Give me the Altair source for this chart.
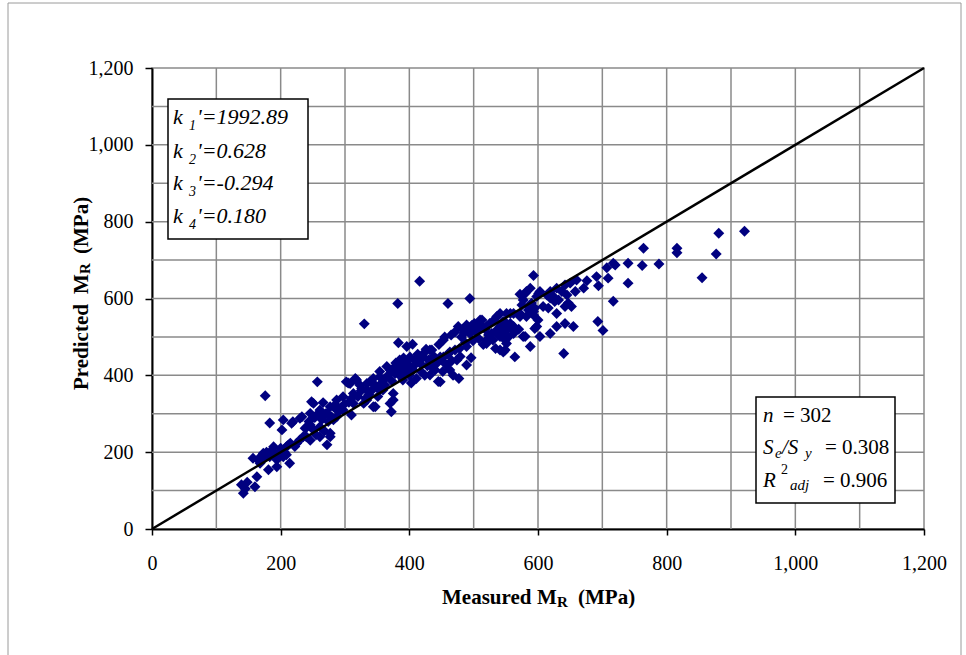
import altair as alt
import pandas as pd

# ---------------- data ----------------
measured_mpa = [
    139, 142, 145, 148, 157, 160, 163, 165, 168, 170,
    173, 175, 176, 178, 181, 183, 183, 186, 189, 190,
    194, 194, 197, 200, 202, 204, 204, 206, 209, 209,
    212, 214, 215, 217, 219, 222, 225,
    230, 230, 233, 235, 238, 240, 241, 244, 246, 246,
    246, 248, 251, 251, 253, 255, 257, 258, 261, 261,
    261, 264, 266, 268, 270, 272, 272, 274, 277, 277,
    277, 279, 282, 282, 285, 287, 287, 287, 290, 293,
    297, 297, 299,
    302, 305, 306, 308, 310, 310, 313, 313, 316, 318,
    320, 323, 325, 326, 329, 330, 332, 334, 334, 334,
    337, 339, 341, 344, 344, 344, 347, 349, 351, 354,
    354, 354, 357, 359, 361, 362, 365, 367, 370, 370,
    372, 373, 375, 375, 376, 378, 379,
    382, 383, 384, 385, 386, 388, 390, 391, 393, 395,
    396, 398, 400, 401, 401, 403, 405, 406, 408, 410,
    411, 413, 416, 417, 418, 420, 422, 422, 424, 426,
    428, 430, 432, 432, 435, 436, 438, 440, 442, 445,
    446, 448, 448, 450, 452, 453, 453, 455, 458, 460,
    460, 463, 463, 465, 466, 468, 471, 471, 474, 476,
    477, 478, 479,
    481, 483, 485, 487, 489, 489, 489, 492, 494, 494,
    496, 497, 499, 501, 503, 505, 505, 508, 510, 512,
    513, 515, 518, 520, 520, 520, 523, 525, 528, 530,
    532, 534, 536, 536, 538, 541, 541, 541, 541, 544,
    546, 546, 546, 549, 549, 551, 551, 551, 551, 554,
    557, 557, 560, 562, 562, 562, 564, 570, 572, 572,
    572, 575, 577, 577, 580, 580,
    582, 582, 585, 585, 588, 588, 590, 593, 593, 593,
    595, 595, 598, 598, 600, 601, 603, 603, 608, 614,
    616, 619, 619, 619, 624, 626, 629, 629, 629, 632,
    637, 640, 642, 642, 642, 645, 647, 650, 652, 655,
    658, 660, 671, 676, 691, 693, 694, 701, 707, 709,
    717, 717, 720,
    740, 740, 762, 764, 788, 816, 816, 855, 877, 881,
    921,
]
predicted_mpa = [
    115, 93, 105, 122, 184, 110, 136, 180, 171, 190,
    197, 185, 347, 200, 154, 188, 276, 205, 214, 195,
    180, 162, 200, 210, 258, 284, 188, 200, 214, 193,
    219, 171, 223, 275, 279, 215, 223,
    232, 288, 292, 240, 262, 240, 266, 280, 231, 271,
    301, 331, 258, 327, 290, 245, 383, 300, 240, 266,
    310, 285, 329, 255, 300, 301, 219, 280, 240, 249,
    318, 292, 284, 318, 323, 292, 318, 336, 305, 315,
    310, 344, 325,
    383, 380, 330, 379, 297, 340, 327, 353, 392, 388,
    345, 375, 360, 366, 327, 534, 340, 336, 362, 379,
    350, 384, 360, 318, 379, 392, 318, 370, 345, 362,
    396, 410, 380, 362, 390, 375, 423, 400, 327, 414,
    305, 385, 336, 353, 420, 405, 432,
    587, 485, 415, 440, 398, 428, 388, 445, 410, 435,
    475, 420, 400, 423, 448, 380, 481, 414, 440, 430,
    392, 455, 645, 431, 410, 445, 448, 457, 400, 468,
    425, 440, 401, 466, 466, 420, 450, 414, 430, 384,
    480, 383, 448, 440, 410, 492, 448, 500, 427, 587,
    455, 414, 461, 505, 438, 400, 466, 513, 440, 527,
    392, 470, 449,
    500, 520, 510, 485, 427, 475, 531, 520, 600, 509,
    446, 530, 490, 535, 515, 514, 527, 495, 544, 530,
    544, 480, 520, 483, 492, 527, 505, 535, 509, 492,
    545, 470, 518, 553, 505, 466, 501, 527, 561, 509,
    461, 518, 540, 466, 492, 483, 518, 535, 561, 500,
    535, 561, 520, 509, 527, 561, 448, 520, 553, 561,
    611, 583, 596, 501, 613, 501,
    553, 618, 570, 579, 475, 627, 588, 557, 566, 660,
    522, 575, 527, 605, 544, 613, 501, 618, 579, 609,
    575, 509, 601, 618, 605, 592, 527, 561, 627, 596,
    618, 457, 535, 579, 635, 609, 588, 640, 579, 527,
    618, 648, 627, 646, 657, 540, 633, 517, 680, 653,
    593, 692, 687,
    692, 640, 686, 731, 690, 731, 719, 654, 716, 770,
    775,
]
identity_line_mpa = [0, 1200]
grid_mpa = [100, 200, 300, 400, 500, 600, 700, 800, 900, 1000, 1100]
tick_mpa = [0, 200, 400, 600, 800, 1000, 1200]

coef_labels = ["1", "2", "3", "4"]
coef_values = ["'=1992.89", "'=0.628", "'=-0.294", "'=0.180"]
stat_n = "= 302"
stat_se_sy = "= 0.308"
stat_r2 = "= 0.906"

# ---------------- layout ----------------
W, H = 772, 461
FONT = "Liberation Serif"
GRID = "#8a8a8a"

xs = alt.Scale(domain=[0, 1200], nice=False, zero=False)
ys = alt.Scale(domain=[0, 1200], nice=False, zero=False)

x_axis = alt.Axis(values=tick_mpa, format=",.0f", grid=False, title=None,
                  labelFont=FONT, labelFontSize=20, labelColor="black",
                  tickColor="black", tickSize=6, tickWidth=1.5,
                  domainColor="black", domainWidth=2, labelPadding=18,
                  labelFlush=False, labelOverlap=False)
y_axis = alt.Axis(values=tick_mpa, format=",.0f", grid=False, title=None,
                  labelFont=FONT, labelFontSize=20, labelColor="black",
                  tickColor="black", tickSize=7, tickWidth=1.5,
                  domainColor="black", domainWidth=2, labelPadding=12,
                  labelFlush=False, labelOverlap=False)


def X(field):
    return alt.X(field, scale=xs, axis=x_axis)


def Y(field):
    return alt.Y(field, scale=ys, axis=y_axis)


def dx(px):
    return px * 1200.0 / W


def dy(py):
    return (H - py) * 1200.0 / H


def pieces(rows):
    return pd.DataFrame({"x": [dx(r[0]) for r in rows],
                         "y": [dy(r[1]) for r in rows],
                         "t": [r[2] for r in rows]})


def text_layer(rows, size, style="normal", weight="normal", angle=0):
    return alt.Chart(pieces(rows)).mark_text(
        align="left", baseline="alphabetic", font=FONT, fontSize=size,
        fontStyle=style, fontWeight=weight, angle=angle, color="black"
    ).encode(x=X("x:Q"), y=Y("y:Q"), text="t:N")


frame_df = pd.DataFrame({"x": [dx(-144)], "x2": [dx(809)], "y": [dy(-65)], "y2": [dy(640)]})
frame = alt.Chart(frame_df).mark_rect(fill=None, stroke="#9a9a9a", strokeWidth=1).encode(
    x=X("x:Q"), x2="x2:Q", y=Y("y:Q"), y2="y2:Q")

grid_df = pd.DataFrame({"v": grid_mpa})
vgrid = alt.Chart(grid_df).mark_rule(color=GRID, strokeWidth=1.5).encode(x=X("v:Q"))
hgrid = alt.Chart(grid_df).mark_rule(color=GRID, strokeWidth=1.5).encode(y=Y("v:Q"))

pts_df = pd.DataFrame({"measured": measured_mpa, "predicted": predicted_mpa})
points = alt.Chart(pts_df).mark_point(
    shape="diamond", filled=True, size=120, color="#000080", opacity=1
).encode(x=X("measured:Q"), y=Y("predicted:Q"))

line_df = pd.DataFrame({"a": identity_line_mpa, "b": identity_line_mpa})
identity = alt.Chart(line_df).mark_line(color="black", strokeWidth=2.5).encode(
    x=X("a:Q"), y=Y("b:Q"))

box_rows = [(16, 31, 156, 171), (604, 329, 743, 435)]
box_df = pd.DataFrame({
    "x": [dx(b[0]) for b in box_rows], "x2": [dx(b[2]) for b in box_rows],
    "y": [dy(b[1]) for b in box_rows], "y2": [dy(b[3]) for b in box_rows],
})
boxes = alt.Chart(box_df).mark_rect(fill="white", stroke="black", strokeWidth=1.5).encode(
    x=X("x:Q"), x2="x2:Q", y=Y("y:Q"), y2="y2:Q")

line_base = [56, 90, 122, 155]
k_main = [(21, b, "k") for b in line_base]
k_sub = [(37, b + 6, lab) for b, lab in zip(line_base, coef_labels)]
k_rest = [(45, b, v) for b, v in zip(line_base, coef_values)]

stats_italic = [(611, 354, "n"), (611, 386, "S"), (630, 386, "/S"), (611, 419, "R")]
stats_italic_sub = [(623, 390, "e"), (653, 390, "y"), (638, 422, "adj")]
stats_upright = [(631, 354, stat_n), (673, 386, stat_se_sy), (671, 419, stat_r2)]
stats_sup = [(629, 406, "2")]

xtitle_main = [(290, 536, "Measured"), (385, 536, "M"), (426, 536, "(MPa)")]
xtitle_sub = [(405, 539, "R")]
ytitle_main = [(-64, 322, "Predicted"), (-64, 226, "M"), (-64, 186, "(MPa)")]
ytitle_sub = [(-62, 206, "R")]

chart = alt.layer(
    frame, vgrid, hgrid, points, identity, boxes,
    text_layer(k_main, 22, style="italic"),
    text_layer(k_sub, 14, style="italic"),
    text_layer(k_rest, 22, style="italic"),
    text_layer(stats_italic, 21, style="italic"),
    text_layer(stats_italic_sub, 15, style="italic"),
    text_layer(stats_upright, 21),
    text_layer(stats_sup, 14),
    text_layer(xtitle_main, 21, weight="bold"),
    text_layer(xtitle_sub, 15, weight="bold"),
    text_layer(ytitle_main, 21, weight="bold", angle=270),
    text_layer(ytitle_sub, 15, weight="bold", angle=270),
).properties(
    width=W, height=H,
    autosize=alt.AutoSizeParams(type="none"),
    padding={"left": 152, "top": 68, "right": 42, "bottom": 126},
    background="white",
).configure_view(stroke=GRID, strokeWidth=1.5)

chart.save("out.html", embed_options={"renderer": "svg", "actions": False})
